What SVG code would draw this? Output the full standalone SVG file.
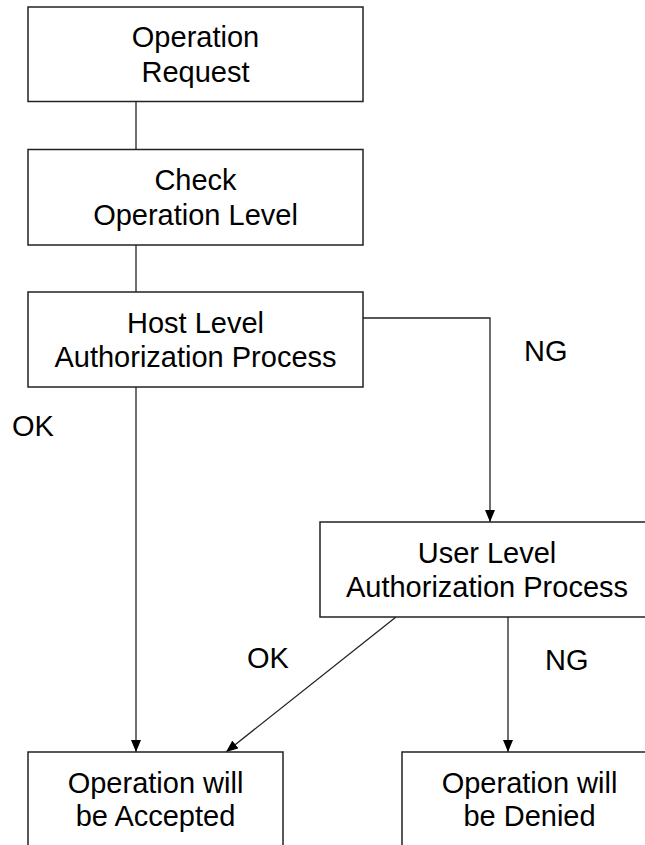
<svg xmlns="http://www.w3.org/2000/svg" width="645" height="845" viewBox="0 0 645 845">
<style>
.box{fill:#fff;stroke:#222;stroke-width:1.5}
.t{font-family:"Liberation Sans",Arial,sans-serif;font-size:29px;fill:#000;text-anchor:middle}
.lbl{font-family:"Liberation Sans",Arial,sans-serif;font-size:29px;fill:#000}
.c{fill:none;stroke:#222;stroke-width:1.3}
</style>
<defs>
<marker id="ah" viewBox="0 0 12 10" refX="12" refY="5" markerWidth="12" markerHeight="10" markerUnits="userSpaceOnUse" orient="auto">
<path d="M0,0 L12,5 L0,10 Z" fill="#000"/>
</marker>
</defs>
<g id="connectors">
<line class="c" x1="136" y1="101" x2="136" y2="149.5"/>
<line class="c" x1="136" y1="245" x2="136" y2="292"/>
<line class="c" x1="136" y1="387" x2="136" y2="752" marker-end="url(#ah)"/>
<polyline class="c" points="363,318 490,318 490,522" marker-end="url(#ah)"/>
<line class="c" x1="396" y1="617" x2="226" y2="752" marker-end="url(#ah)"/>
<line class="c" x1="508" y1="617" x2="508" y2="752" marker-end="url(#ah)"/>
<text class="lbl" x="524" y="361">NG</text>
<text class="lbl" x="12" y="436">OK</text>
<text class="lbl" x="247" y="668">OK</text>
<text class="lbl" x="545" y="670">NG</text>
</g>
<g id="n1">
<rect class="box" x="28" y="7" width="335" height="94.5"/>
<text class="t" x="195.5" y="47">Operation</text>
<text class="t" x="195.5" y="82">Request</text>
</g>
<g id="n2">
<rect class="box" x="28" y="149.5" width="335" height="95.5"/>
<text class="t" x="195.5" y="190">Check</text>
<text class="t" x="195.5" y="225">Operation Level</text>
</g>
<g id="n3">
<rect class="box" x="28" y="292" width="335" height="95"/>
<text class="t" x="195.5" y="333">Host Level</text>
<text class="t" x="195.5" y="367">Authorization Process</text>
</g>
<g id="n4">
<rect class="box" x="320" y="522" width="335" height="95"/>
<text class="t" x="487" y="563">User Level</text>
<text class="t" x="487" y="597">Authorization Process</text>
</g>
<g id="n5">
<rect class="box" x="28" y="752" width="255" height="110"/>
<text class="t" x="155.5" y="793">Operation will</text>
<text class="t" x="155.5" y="826">be Accepted</text>
</g>
<g id="n6">
<rect class="box" x="402" y="752" width="255" height="110"/>
<text class="t" x="529.5" y="793">Operation will</text>
<text class="t" x="529.5" y="826">be Denied</text>
</g>
</svg>
